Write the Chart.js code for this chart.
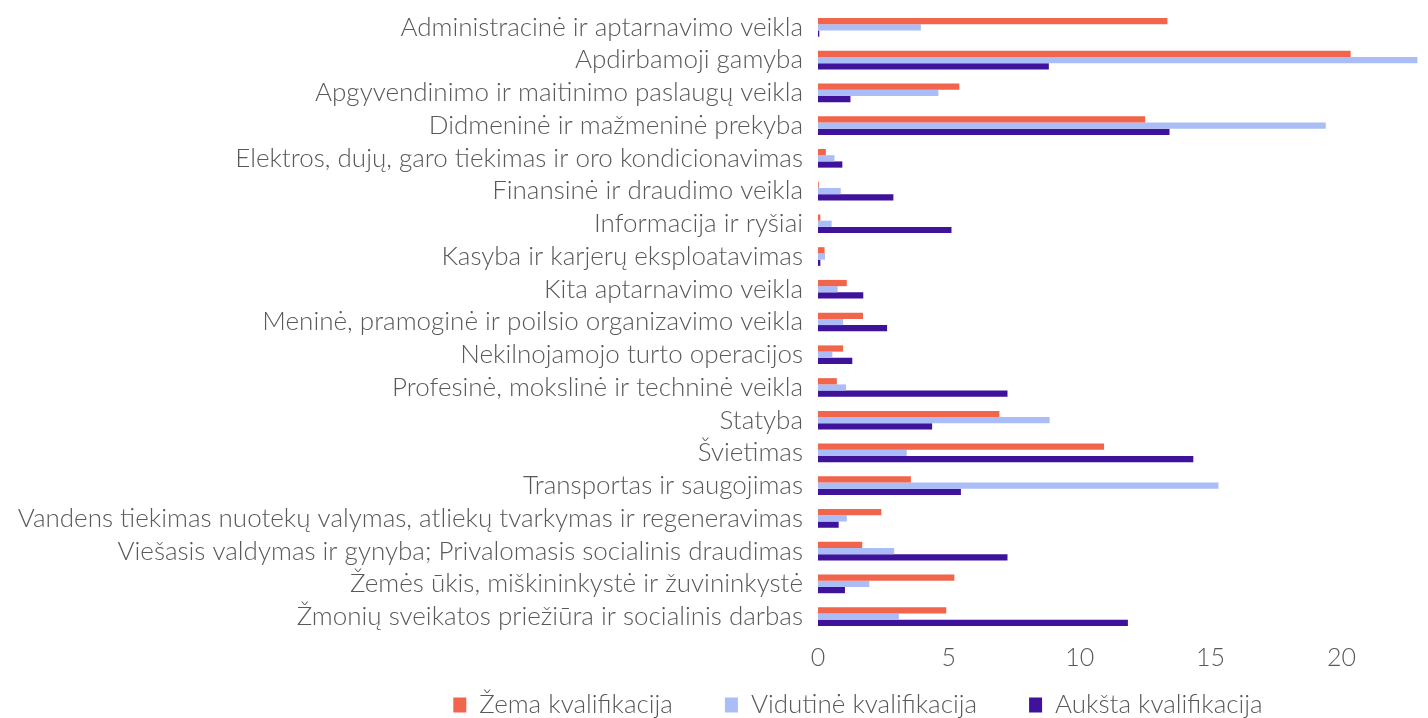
<!DOCTYPE html>
<html>
<head>
<meta charset="utf-8">
<script src="https://cdn.jsdelivr.net/npm/chart.js@4.4.0/dist/chart.umd.min.js"></script>
<style>
  html, body { margin: 0; padding: 0; background: #fff; }
  #wrap { width: 1428px; height: 718px; }
</style>
</head>
<body>
<div id="wrap"><canvas id="chart"></canvas></div>
<script>
// --- DUOMENYS ---
const kategorijos = [
    "Administracinė ir aptarnavimo veikla",
    "Apdirbamoji gamyba",
    "Apgyvendinimo ir maitinimo paslaugų veikla",
    "Didmeninė ir mažmeninė prekyba",
    "Elektros, dujų, garo tiekimas ir oro kondicionavimas",
    "Finansinė ir draudimo veikla",
    "Informacija ir ryšiai",
    "Kasyba ir karjerų eksploatavimas",
    "Kita aptarnavimo veikla",
    "Meninė, pramoginė ir poilsio organizavimo veikla",
    "Nekilnojamojo turto operacijos",
    "Profesinė, mokslinė ir techninė veikla",
    "Statyba",
    "Švietimas",
    "Transportas ir saugojimas",
    "Vandens tiekimas nuotekų valymas, atliekų tvarkymas ir regeneravimas",
    "Viešasis valdymas ir gynyba; Privalomasis socialinis draudimas",
    "Žemės ūkis, miškininkystė ir žuvininkystė",
    "Žmonių sveikatos priežiūra ir socialinis darbas"
];

const zema = [13.35, 20.35, 5.4, 12.5, 0.3, 0.03, 0.09, 0.25, 1.1, 1.72, 0.96, 0.72, 6.93, 10.93, 3.55, 2.42, 1.69, 5.21, 4.9];
const vidutine = [3.93, 22.9, 4.6, 19.4, 0.63, 0.87, 0.52, 0.27, 0.75, 0.96, 0.55, 1.07, 8.85, 3.39, 15.3, 1.1, 2.91, 1.96, 3.09];
const auksta = [0.05, 8.82, 1.24, 13.43, 0.93, 2.88, 5.1, 0.09, 1.73, 2.64, 1.31, 7.24, 4.36, 14.34, 5.46, 0.79, 7.24, 1.03, 11.84];

const xTicks = [0, 5, 10, 15, 20];

const tekstoSpalva = "#595959";
const sriftas = "Lato";
const legendosTarpas = 52;

// legenda: platesni tarpai tarp elementų, bet ne vertikaliai; perstumta į dešinę kaip originale
const legendosPataisa = {
    id: 'legendosPataisa',
    afterInit(chart) {
        const lg = chart.legend;
        const fit0 = lg.fit;
        lg.fit = function () { fit0.call(this); this.height = 46; };
    },
    afterLayout(chart) {
        const lg = chart.legend;
        lg.top = 692 - legendosTarpas;
        lg.bottom = 718;
        lg.height = lg.bottom - lg.top;
        lg.left += 148;
        lg.right += 148;
    }
};

const ctx = document.getElementById('chart').getContext('2d');
new Chart(ctx, {
    type: 'bar',
    data: {
        labels: kategorijos,
        datasets: [
            { label: "Žema kvalifikacija", data: zema, backgroundColor: "#F0654B" },
            { label: "Vidutinė kvalifikacija", data: vidutine, backgroundColor: "#AABDF7" },
            { label: "Aukšta kvalifikacija", data: auksta, backgroundColor: "#3F129C" }
        ]
    },
    plugins: [legendosPataisa],
    options: {
        indexAxis: 'y',
        responsive: true,
        maintainAspectRatio: false,
        animation: false,
        datasets: { bar: { categoryPercentage: 0.57, barPercentage: 1.0 } },
        layout: { padding: { top: 11, right: 8, left: 0, bottom: 0 } },
        scales: {
            x: {
                min: 0,
                max: 23,
                grid: { display: false, drawTicks: false },
                border: { display: false },
                afterBuildTicks: (axis) => { axis.ticks = xTicks.map(v => ({ value: v })); },
                afterFit: (axis) => { axis.height = 39; },
                ticks: { color: tekstoSpalva, font: { family: sriftas, size: 25, weight: 300 }, padding: 10 }
            },
            y: {
                grid: { display: false, drawTicks: false },
                border: { display: false },
                afterFit: (axis) => { axis.width = 818; axis.paddingTop = 0; axis.paddingBottom = 0; },
                ticks: { color: tekstoSpalva, font: { family: sriftas, size: 26, weight: 300 }, padding: 15, autoSkip: false }
            }
        },
        plugins: {
            legend: {
                position: 'bottom',
                labels: {
                    color: tekstoSpalva,
                    font: { family: sriftas, size: 26, weight: 300 },
                    boxWidth: 13,
                    boxHeight: 15,
                    padding: legendosTarpas
                }
            },
            tooltip: { enabled: false }
        }
    }
});
</script>
</body>
</html>
